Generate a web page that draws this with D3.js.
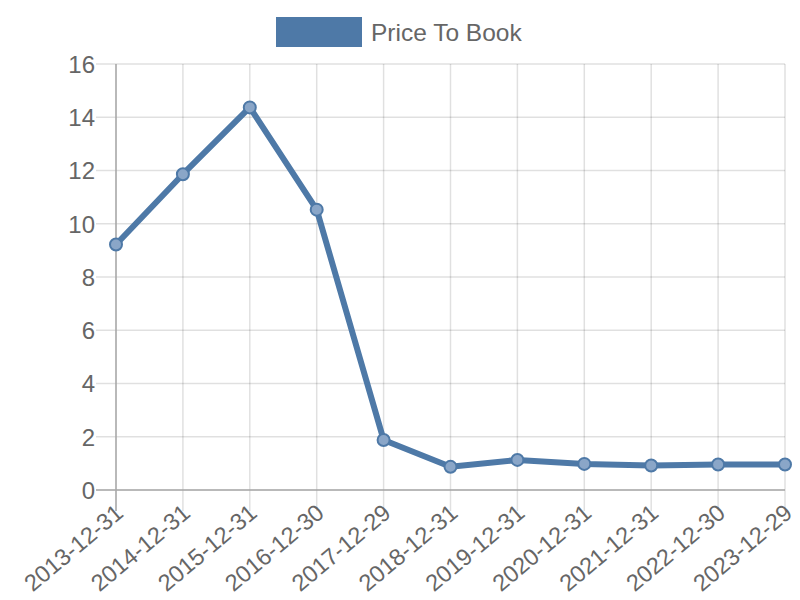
<!DOCTYPE html>
<html>
<head>
<meta charset="utf-8">
<script src="https://cdn.jsdelivr.net/npm/d3@7"></script>
<style>
  body { margin: 0; background: #fff; }
  text { font-family: "Liberation Sans", Arial, sans-serif; fill: #666; }
</style>
</head>
<body>
<script>
// chart data
var dates = ["2013-12-31", "2014-12-31", "2015-12-31", "2016-12-30", "2017-12-29",
             "2018-12-31", "2019-12-31", "2020-12-31", "2021-12-31", "2022-12-30", "2023-12-29"];
var priceToBook = [9.22, 11.86, 14.37, 10.53, 1.88, 0.87, 1.13, 0.98, 0.92, 0.96, 0.96];
var yTicks = [0, 2, 4, 6, 8, 10, 12, 14, 16];
var seriesName = "Price To Book";

var width = 800, height = 600;
var margin = {left: 116, right: 15, top: 64, bottom: 110};
var color = "#4e79a7";

var svg = d3.select("body")
            .append("svg")
            .attr("width", width)
            .attr("height", height);

// scales
var xScale = d3.scalePoint()
               .domain(dates)
               .range([margin.left, width - margin.right]);
var yScale = d3.scaleLinear()
               .domain([0, 16])
               .range([height - margin.bottom, margin.top]);

// grid lines
svg.append("g")
   .selectAll("line")
   .data(yTicks)
   .join("line")
   .attr("x1", margin.left - 20)
   .attr("x2", width - margin.right)
   .attr("y1", function(d) { return yScale(d); })
   .attr("y2", function(d) { return yScale(d); })
   .attr("stroke", "rgba(0,0,0,0.12)")
   .attr("stroke-width", 1.5);

svg.append("g")
   .selectAll("line")
   .data(dates)
   .join("line")
   .attr("x1", function(d) { return xScale(d); })
   .attr("x2", function(d) { return xScale(d); })
   .attr("y1", margin.top)
   .attr("y2", height - margin.bottom + 21)
   .attr("stroke", "rgba(0,0,0,0.12)")
   .attr("stroke-width", 1.5);

// axes
var yAxis = d3.axisLeft(yScale).tickValues(yTicks).tickSize(20).tickPadding(1);
var gy = svg.append("g")
            .attr("transform", "translate(" + margin.left + ",0)")
            .call(yAxis);
gy.select(".domain").remove();
gy.selectAll(".tick line").remove();
gy.selectAll("text").style("font-size", "24px").attr("dy", "0.35em");

var xAxis = d3.axisBottom(xScale).tickSize(0).tickPadding(0);
var gx = svg.append("g")
            .attr("transform", "translate(0," + (height - margin.bottom) + ")")
            .call(xAxis);
gx.select(".domain").remove();
gx.selectAll("text")
  .style("font-size", "23.5px")
  .attr("text-anchor", "end")
  .attr("dy", "0.35em")
  .attr("y", 0)
  .attr("transform", "translate(3,19) rotate(-40)");

// axis lines
svg.append("line")
   .attr("x1", margin.left).attr("x2", margin.left)
   .attr("y1", margin.top).attr("y2", height - margin.bottom + 21)
   .attr("stroke", "#aaa").attr("stroke-width", 1.5);
svg.append("line")
   .attr("x1", margin.left - 20).attr("x2", width - margin.right)
   .attr("y1", yScale(0)).attr("y2", yScale(0))
   .attr("stroke", "#aaa").attr("stroke-width", 1.5);

// line
var line = d3.line()
             .x(function(d, i) { return xScale(dates[i]); })
             .y(function(d) { return yScale(d); });

svg.append("path")
   .datum(priceToBook)
   .attr("d", line)
   .attr("fill", "none")
   .attr("stroke", color)
   .attr("stroke-width", 6)
   .attr("stroke-linejoin", "round");

svg.append("g")
   .selectAll("circle")
   .data(priceToBook)
   .join("circle")
   .attr("cx", function(d, i) { return xScale(dates[i]); })
   .attr("cy", function(d) { return yScale(d); })
   .attr("r", 6)
   .attr("fill", "#8aa6c8")
   .attr("stroke", color)
   .attr("stroke-width", 2);

// legend
svg.append("rect")
   .attr("x", 276).attr("y", 17)
   .attr("width", 86).attr("height", 30)
   .attr("fill", color);
svg.append("text")
   .attr("x", 371).attr("y", 32)
   .attr("dy", "0.35em")
   .style("font-size", "24.5px")
   .text(seriesName);
</script>
</body>
</html>
